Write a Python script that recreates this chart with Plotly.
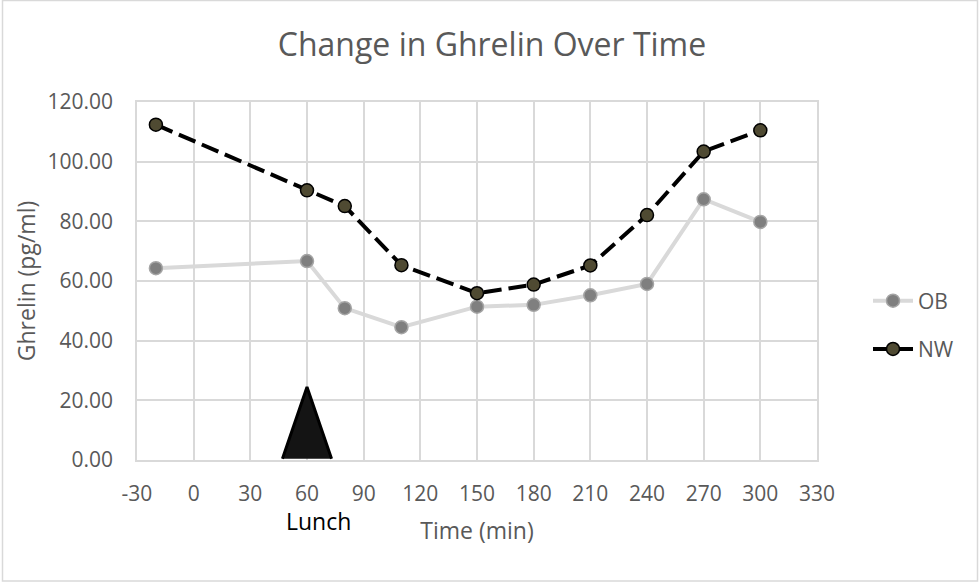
import plotly.graph_objects as go

# ---- data ----
time_min = [-20, 60, 80, 110, 150, 180, 210, 240, 270, 300]
ob_values = [64.3, 66.7, 50.9, 44.5, 51.4, 52.0, 55.2, 59.0, 87.4, 79.8]
nw_values = [112.4, 90.4, 85.1, 65.3, 55.9, 58.8, 65.2, 82.1, 103.4, 110.5]
x_ticks = [-30, 0, 30, 60, 90, 120, 150, 180, 210, 240, 270, 300, 330]
y_ticks = [0, 20, 40, 60, 80, 100, 120]
lunch_time = 60
lunch_tri_x = [47, 60, 73]
lunch_tri_y = [0.4, 24.5, 0.4]

FONT = "Open Sans"
GREY_TXT = "#595959"
GRID = "#D9D9D9"

fig = go.Figure()

# lunch marker triangle
fig.add_trace(go.Scatter(
    x=lunch_tri_x, y=lunch_tri_y, mode="lines", fill="toself",
    fillcolor="#141414", line=dict(color="#000000", width=3),
    showlegend=False, hoverinfo="skip"))

fig.add_trace(go.Scatter(
    x=time_min, y=ob_values, name="OB", mode="lines+markers", legendgroup="ob",
    line=dict(color="#D9D9D9", width=4),
    marker=dict(size=13, color="#7F7F7F", line=dict(color="#A5A5A5", width=1.5))))

fig.add_trace(go.Scatter(
    x=time_min, y=nw_values, name="NW", mode="lines+markers", legendgroup="nw",
    line=dict(color="#000000", width=4, dash="18px,7px"),
    marker=dict(size=13, color="#4F4A32", line=dict(color="#000000", width=1.5))))

# "Lunch" label
fig.add_annotation(x=lunch_time, y=0, xref="x", yref="y", text="Lunch",
                   showarrow=False, yanchor="middle", yshift=-61, xshift=11,
                   font=dict(family=FONT, size=23, color="#000000"))

# chart-area border
fig.add_shape(type="rect", xref="paper", yref="paper",
              x0=(2.5 - 137) / 680, x1=(977.5 - 137) / 680,
              y0=-(581 - 460) / 358, y1=1 + (102 - 0.5) / 358,
              line=dict(color="#D9D9D9", width=1.5), fillcolor="rgba(0,0,0,0)",
              layer="below")

fig.update_layout(
    width=980, height=583,
    margin=dict(l=137, r=163, t=102, b=123),
    paper_bgcolor="white", plot_bgcolor="white",
    font=dict(family=FONT, size=21, color=GREY_TXT),
    title=dict(text="Change in Ghrelin Over Time", x=492 / 980, xanchor="center",
               y=1 - 45 / 583, yanchor="middle",
               font=dict(family=FONT, size=32, color=GREY_TXT)),
    legend=dict(x=(868 - 137) / 680, xanchor="left", y=(460 - 325) / 358, yanchor="middle",
                font=dict(family=FONT, size=21, color=GREY_TXT),
                tracegroupgap=18, itemwidth=40, bgcolor="rgba(0,0,0,0)"),
    xaxis=dict(range=[-30, 330], tickvals=x_ticks, ticktext=[str(v) for v in x_ticks],
               showgrid=True, gridcolor=GRID, gridwidth=1.5,
               showline=True, linecolor=GRID, linewidth=1.5, mirror=True,
               zeroline=False, ticks="", ticklabelstandoff=14, automargin=False,
               title=dict(text="Time (min)", font=dict(family=FONT, size=23, color=GREY_TXT),
                          standoff=17)),
    yaxis=dict(range=[0, 120], tickvals=y_ticks, tickformat=".2f",
               showgrid=True, gridcolor=GRID, gridwidth=1.5,
               showline=True, linecolor=GRID, linewidth=1.5, mirror=True,
               zeroline=False, ticks="", ticklabelstandoff=18, automargin=False,
               title=dict(text="Ghrelin (pg/ml)", font=dict(family=FONT, size=23, color=GREY_TXT),
                          standoff=5)),
)

fig.write_html("out.html", config={"displayModeBar": False},
               post_script="document.body.style.margin='0';")
